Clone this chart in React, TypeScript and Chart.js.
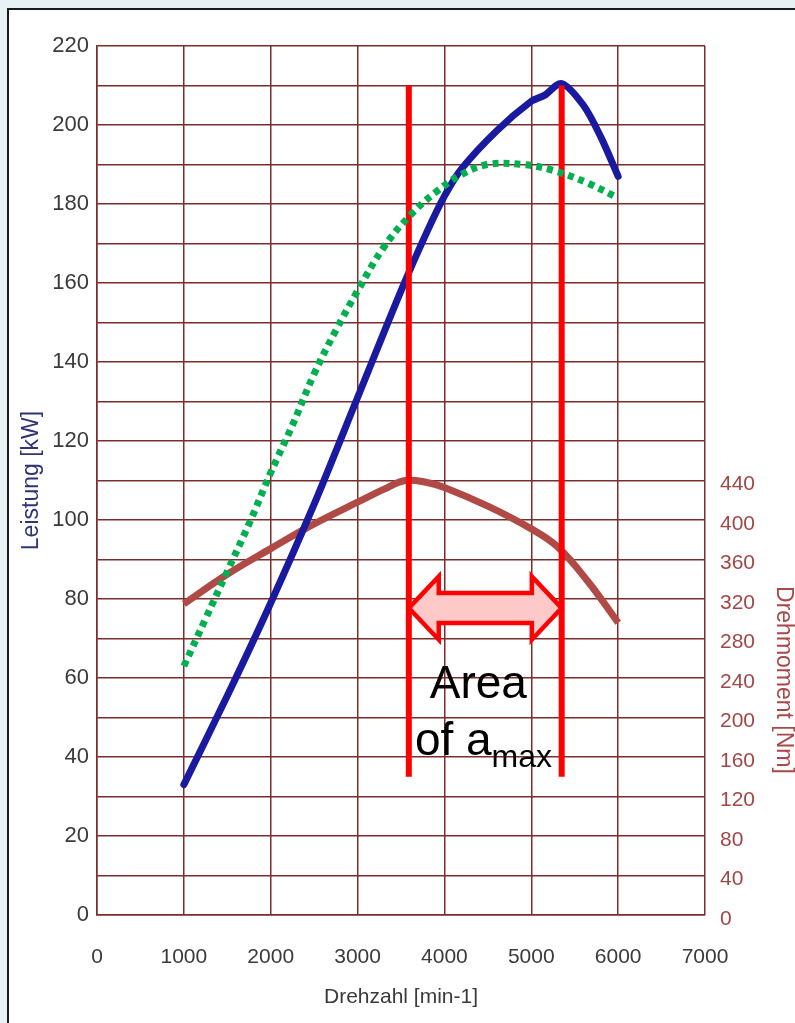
import React, { useEffect, useRef } from "react";
import { Chart, registerables } from "chart.js";

Chart.register(...registerables);

// ---- data ----
const rpmTicks = [0, 1000, 2000, 3000, 4000, 5000, 6000, 7000];
const powerRpm = [1000, 1500, 2000, 2500, 3000, 3500, 3800, 4000, 4200, 4600, 5000, 5150, 5350, 5600, 5800, 6000];
const powerKw = [33, 55.5, 79, 104, 131, 158, 173, 182, 189, 198.5, 206, 207.5, 210.5, 205, 197, 187];
const greenRpm = [1000, 1250, 1500, 1750, 2000, 2250, 2500, 2750, 3000, 3300, 3600, 3900, 4200, 4500, 4900, 5250, 5650, 6000];
const greenKw = [63, 75, 87, 99, 112, 124, 137, 148, 158, 169, 177, 183, 187.5, 190, 190, 188.5, 185.3, 181.5];
const torqueRpm = [1000, 1500, 2000, 2500, 3000, 3300, 3550, 3800, 4000, 4500, 5000, 5300, 5650, 6000];
const torqueNm = [315, 345, 371, 396, 418, 431, 440, 438, 433, 414, 391, 373, 338, 296];
const markerRpm = [3590, 5350];
const markerKw = [35, 210];
const arrowTipRpm = [3590, 5350];
const arrowHeadRpm = [3935, 5006];
const arrowKw = [77.7, 3.8, 8]; // centre, shaft half-height, head half-height
const areaLabel = ["Area", "of a", "max"];
const areaLabelPos = [4390, 55, 3660, 40.5, 37.5]; // rpm centre, kW baseline, rpm left, kW baseline, kW sub baseline

const FONT = "'Liberation Sans', Arial, sans-serif";
const GRID = "#7b2c2c";

const pts = (xs: number[], ys: number[]) => xs.map((x, i) => ({ x, y: ys[i] }));

const overlayPlugin = {
  id: "overlay",
  afterDatasetsDraw(chart: any) {
    const { ctx } = chart;
    const xs = chart.scales.x;
    const ys = chart.scales.y;
    const X = (v: number) => xs.getPixelForValue(v);
    const Y = (v: number) => ys.getPixelForValue(v);
    // double arrow
    const [c, sh, hh] = arrowKw;
    const l = X(arrowTipRpm[0]);
    const r = X(arrowTipRpm[1]);
    const lb = X(arrowHeadRpm[0]);
    const rb = X(arrowHeadRpm[1]);
    ctx.save();
    ctx.beginPath();
    ctx.moveTo(l, Y(c));
    ctx.lineTo(lb, Y(c + hh));
    ctx.lineTo(lb, Y(c + sh));
    ctx.lineTo(rb, Y(c + sh));
    ctx.lineTo(rb, Y(c + hh));
    ctx.lineTo(r, Y(c));
    ctx.lineTo(rb, Y(c - hh));
    ctx.lineTo(rb, Y(c - sh));
    ctx.lineTo(lb, Y(c - sh));
    ctx.lineTo(lb, Y(c - hh));
    ctx.closePath();
    ctx.fillStyle = "#ffc9c9";
    ctx.fill();
    ctx.strokeStyle = "#ff0000";
    ctx.lineWidth = 4.5;
    ctx.lineJoin = "miter";
    ctx.stroke();
    // text
    ctx.fillStyle = "#000";
    ctx.font = `46px ${FONT}`;
    ctx.textBaseline = "alphabetic";
    ctx.textAlign = "center";
    ctx.fillText(areaLabel[0], X(areaLabelPos[0]), Y(areaLabelPos[1]));
    ctx.textAlign = "left";
    const x0 = X(areaLabelPos[2]);
    ctx.fillText(areaLabel[1], x0, Y(areaLabelPos[3]));
    const w = ctx.measureText(areaLabel[1]).width;
    ctx.font = `32px ${FONT}`;
    ctx.fillText(areaLabel[2], x0 + w, Y(areaLabelPos[4]));
    ctx.restore();
  },
  afterDraw(chart: any) {
    const { ctx } = chart;
    const y1 = chart.scales.y1;
    ctx.save();
    ctx.translate(y1.right - 12, y1.getPixelForValue(238));
    ctx.rotate(Math.PI / 2);
    ctx.font = `23px ${FONT}`;
    ctx.fillStyle = "#a84848";
    ctx.textAlign = "center";
    ctx.textBaseline = "middle";
    ctx.fillText("Drehmoment [Nm]", 0, 0);
    ctx.restore();
  },
};

export default function App() {
  const ref = useRef<HTMLCanvasElement>(null);
  useEffect(() => {
    if (!ref.current) return;
    const chart = new Chart(ref.current, {
      type: "line",
      data: {
        datasets: [
          {
            label: "Leistung",
            data: pts(powerRpm, powerKw),
            borderColor: "#1a1aa0",
            borderWidth: 7,
            pointRadius: 0,
            tension: 0.3,
            borderCapStyle: "round",
            borderJoinStyle: "round",
            yAxisID: "y",
            order: 2,
          },
          {
            label: "Grenze",
            data: pts(greenRpm, greenKw),
            borderColor: "#00b050",
            borderWidth: 7,
            borderDash: [6, 5],
            pointRadius: 0,
            tension: 0.4,
            yAxisID: "y",
            order: 0,
          },
          {
            label: "Drehmoment",
            data: pts(torqueRpm, torqueNm),
            borderColor: "#b04a46",
            borderWidth: 7,
            pointRadius: 0,
            tension: 0.4,
            yAxisID: "y1",
            order: 3,
          },
          {
            label: "m1",
            data: pts([markerRpm[0], markerRpm[0]], markerKw),
            borderColor: "#ff0000",
            borderWidth: 6,
            pointRadius: 0,
            yAxisID: "y",
            order: 1,
          },
          {
            label: "m2",
            data: pts([markerRpm[1], markerRpm[1]], markerKw),
            borderColor: "#ff0000",
            borderWidth: 6,
            pointRadius: 0,
            yAxisID: "y",
            order: 1,
          },
        ],
      },
      options: {
        animation: false,
        responsive: false,
        devicePixelRatio: 1,
        layout: { padding: { top: 46, left: 0, right: 0, bottom: 0 } },
        plugins: { legend: { display: false }, tooltip: { enabled: false } },
        scales: {
          x: {
            type: "linear",
            position: "bottom",
            min: 0,
            max: 7000,
            afterBuildTicks: (s: any) => {
              s.ticks = rpmTicks.map((v) => ({ value: v }));
            },
            ticks: {
              font: { family: FONT, size: 21 },
              color: "#3a3a3a",
              padding: 30,
              maxRotation: 0,
              callback: (v: any) => String(v),
            },
            grid: { color: GRID, lineWidth: 1.5, drawTicks: false },
            border: { color: GRID, width: 1.5 },
            title: {
              display: true,
              text: "Drehzahl [min-1]",
              font: { family: FONT, size: 21 },
              color: "#3a3a3a",
              padding: { top: 0, bottom: 13 },
            },
            afterFit: (s: any) => {
              s.height = 108;
            },
          },
          y: {
            position: "left",
            min: 0,
            max: 220,
            ticks: {
              stepSize: 10,
              font: { family: FONT, size: 22 },
              color: "#3a3a3a",
              padding: 8,
              callback: (v: any) => (v % 20 === 0 ? String(v) : ""),
            },
            grid: { color: GRID, lineWidth: 1.5, drawTicks: false },
            border: { color: GRID, width: 1.5 },
            title: {
              display: true,
              text: "Leistung [kW]",
              font: { family: FONT, size: 23 },
              color: "#2e3475",
              padding: { top: 18, bottom: 0 },
            },
            afterFit: (s: any) => {
              s.width = 97;
            },
          },
          y1: {
            position: "right",
            min: 0,
            max: 880,
            ticks: {
              stepSize: 40,
              font: { family: FONT, size: 21 },
              color: "#a04848",
              padding: 15,
              labelOffset: 4,
              callback: (v: any) => (v <= 440 ? String(v) : ""),
            },
            grid: { display: false, drawTicks: false },
            border: { display: false },
            afterFit: (s: any) => {
              s.width = 90;
            },
          },
        },
      },
      plugins: [overlayPlugin],
    } as any);
    return () => chart.destroy();
  }, []);

  return (
    <div style={{ position: "fixed", inset: 0, background: "#e8f1f4", overflow: "hidden" }}>
      <div
        style={{
          position: "absolute",
          left: 7,
          top: 8,
          width: 900,
          height: 1100,
          border: "2px solid #1a1a1a",
          background: "#ffffff",
        }}
      />
      <canvas ref={ref} width={795} height={1023} style={{ position: "absolute", left: 0, top: 0 }} />
    </div>
  );
}
